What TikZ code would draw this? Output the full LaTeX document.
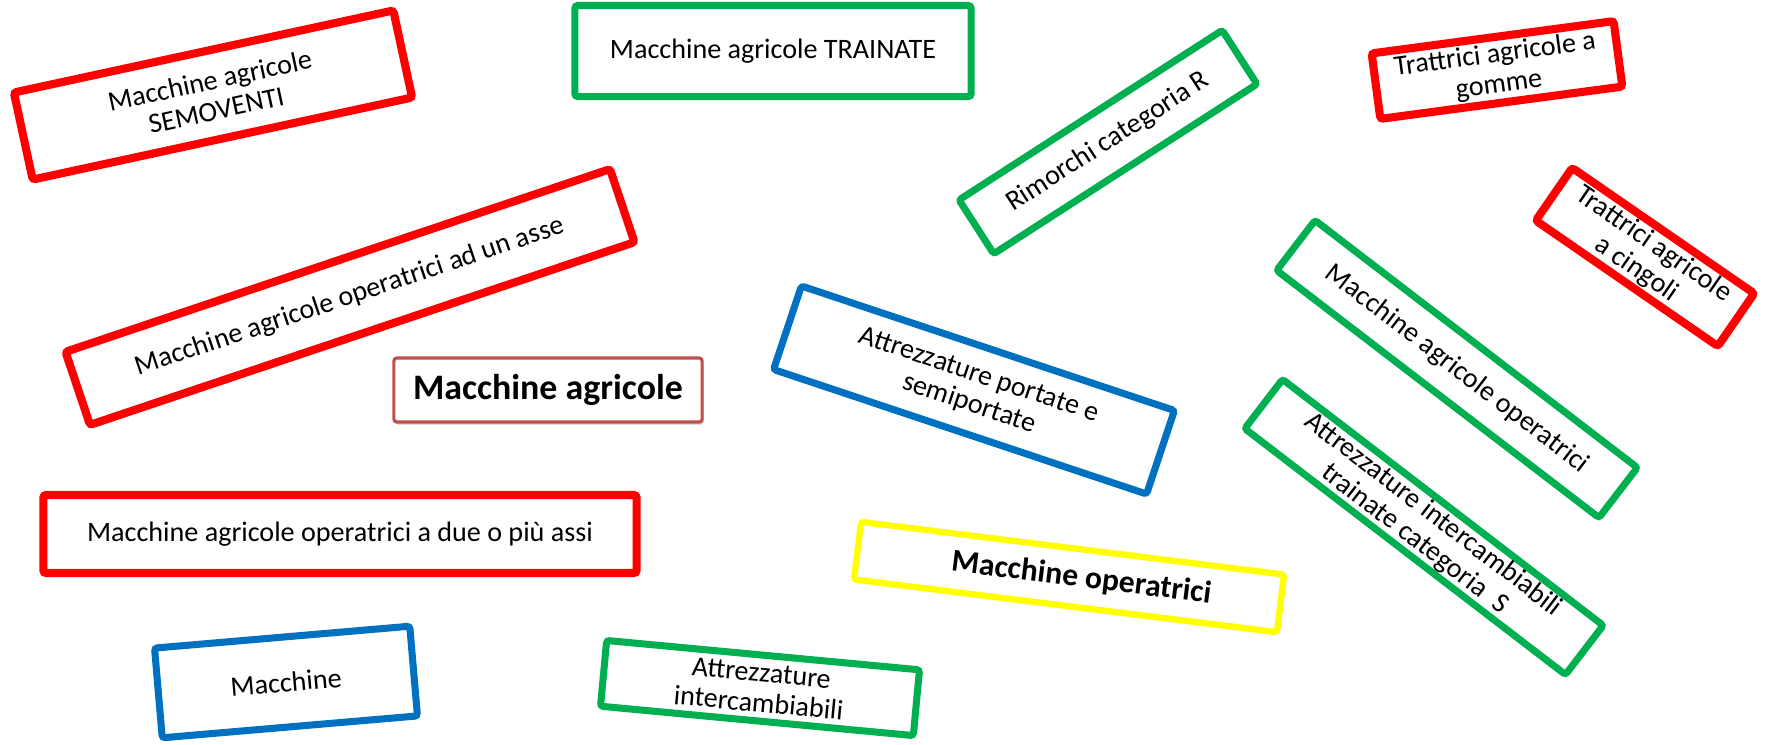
\documentclass[tikz,border=0pt]{standalone}
\usepackage{fontspec}
\setmainfont{Carlito}
\usetikzlibrary{shadows}
\definecolor{boxred}{RGB}{255,0,0}
\definecolor{boxgreen}{RGB}{0,176,80}
\definecolor{boxblue}{RGB}{0,112,192}
\definecolor{boxyellow}{RGB}{255,255,0}
\definecolor{boxbrown}{RGB}{192,80,77}
\tikzset{
  card/.style={draw, fill=white, rounded corners=0.8pt, inner sep=0pt, align=center,
    font=\fontsize{8}{8.6}\selectfont,
    drop shadow={shadow xshift=0.5pt, shadow yshift=-0.8pt, opacity=0.2, fill=black!70}},
  redcard/.style={card, draw=boxred, line width=2.3pt},
  greencard/.style={card, draw=boxgreen, line width=2pt},
  bluecard/.style={card, draw=boxblue, line width=2pt},
}

\begin{document}
\begin{tikzpicture}[x=0.01cm, y=-0.01cm]
\useasboundingbox (0,0) rectangle (1771,744);
% Left column
\node[redcard, rotate=12.2, minimum width=3.88cm, minimum height=0.89cm] (semoventi) at (213,95) {Macchine agricole\\SEMOVENTI};
\node[redcard, rotate=18.55, minimum width=5.74cm, minimum height=0.77cm] (unasse) at (350,297) {Macchine agricole operatrici ad un asse};
\node[redcard, minimum width=5.93cm, minimum height=0.78cm] (dueassi) at (340,534) {Macchine agricole operatrici a due o più assi};
\node[bluecard, rotate=4.9, minimum width=2.56cm, minimum height=0.90cm] (macchine) at (286,682) {Macchine};
% Title
\node[card, draw=boxbrown, line width=0.9pt, minimum width=3.08cm, minimum height=0.64cm,
  font=\fontsize{10.2}{12}\selectfont\bfseries] (titolo) at (548,390) {Macchine agricole};
% Centre
\node[greencard, minimum width=3.96cm, minimum height=0.91cm] (trainate) at (773,51) {Macchine agricole TRAINATE};
\node[greencard, rotate=32.8, minimum width=3.13cm, minimum height=0.64cm] (rimorchi) at (1108,142) {Rimorchi categoria R};
\node[bluecard, rotate=-18.46, minimum width=3.93cm, minimum height=0.88cm] (portate) at (974,390) {Attrezzature portate e\\semiportate};
\node[card, draw=boxyellow, line width=1.8pt, rotate=-7.1, minimum width=4.26cm, minimum height=0.58cm,
  font=\fontsize{9}{10.8}\selectfont\bfseries] (operatrici) at (1069,577) {\hspace*{0.25cm}Macchine operatrici};
\node[greencard, rotate=-5.36, minimum width=3.14cm, minimum height=0.66cm] (intercamb) at (760,688) {\rule{0pt}{0.1cm}Attrezzature\\intercambiabili};
% Right column
\node[redcard, rotate=7.6, minimum width=2.44cm, minimum height=0.66cm] (gomme) at (1497,70) {\rule{0pt}{0.12cm}Trattrici agricole a\\gomme};
\node[redcard, rotate=-34.6, minimum width=2.21cm, minimum height=0.64cm] (cingoli) at (1645,257) {Trattrici agricole\\a cingoli};
\node[greencard, rotate=-37.5, minimum width=4.06cm, minimum height=0.63cm] (agroperatrici) at (1457,369) {Macchine agricole operatrici};
\node[greencard, rotate=-37.5, minimum width=4.04cm, minimum height=0.62cm] (trainateS) at (1424,527) {Attrezzature intercambiabili\\trainate categoria\ \ S};
\end{tikzpicture}
\end{document}
